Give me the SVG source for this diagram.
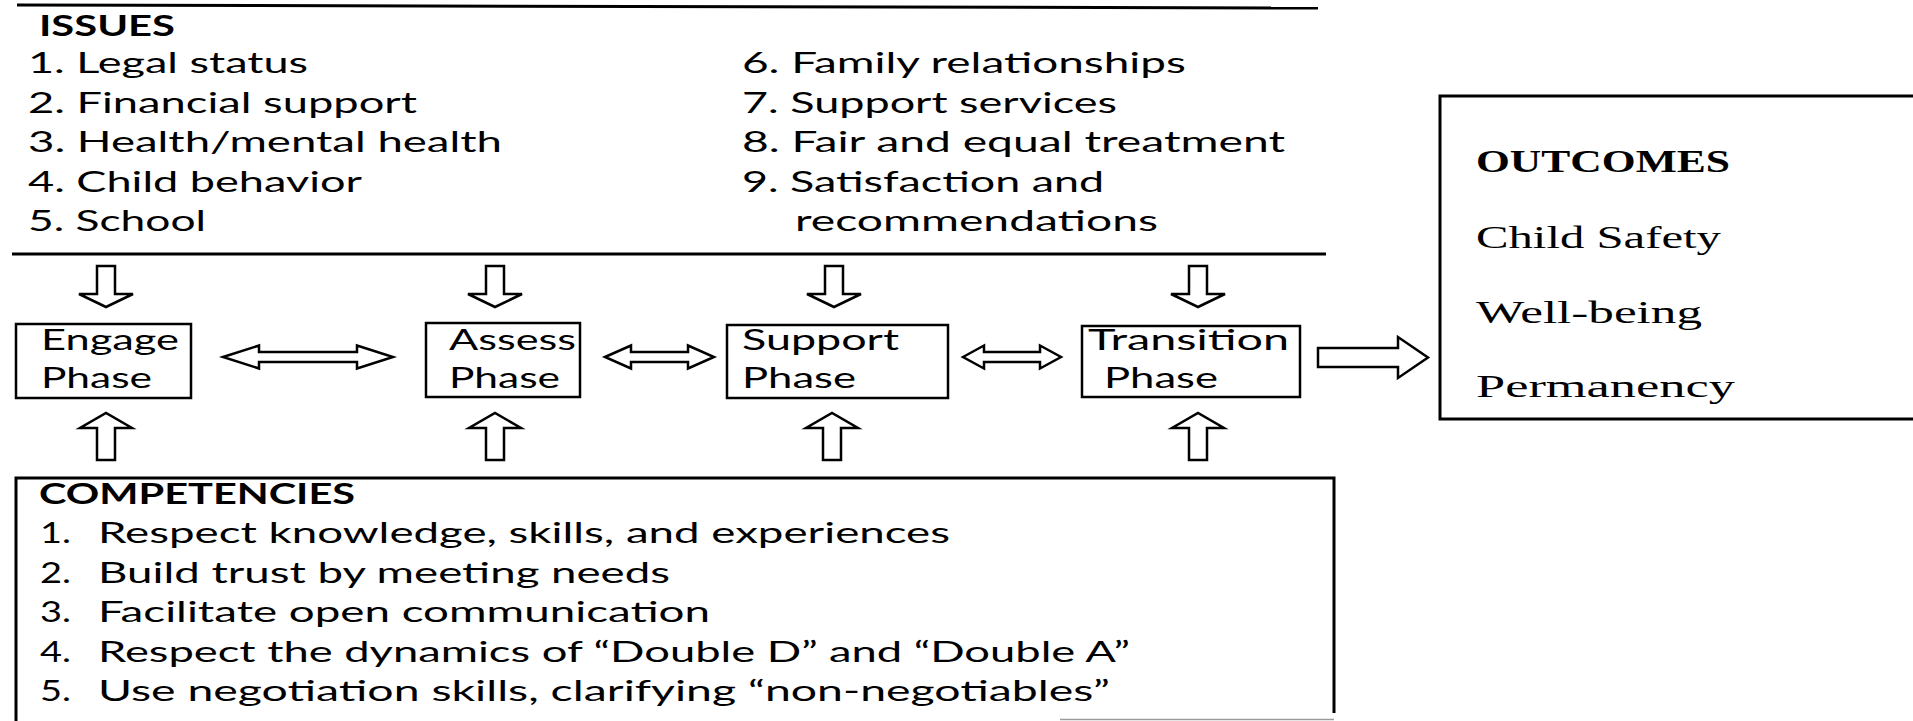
<svg xmlns="http://www.w3.org/2000/svg" width="1913" height="721" viewBox="0 0 1913 721">
<style>
  .bg { fill: #ffffff; }
  .sans { font-family: Lato, "Open Sans", "Liberation Sans", sans-serif; fill: #000; }
  .issue { font-size: 29px; }
  .comp { font-size: 28px; }
  .phase { font-size: 28px; }
  .serif { font-family: "Liberation Serif", "DejaVu Serif", serif; font-size: 31px; fill: #000; }
  .bold { font-weight: bold; }
  .box { fill: #fff; stroke: #000; stroke-width: 2.5; }
  .rule { stroke: #000; stroke-width: 3; fill: none; }
  .arrow { fill: #fff; stroke: #000; stroke-width: 2.5; stroke-linejoin: miter; }
</style>
<rect class="bg" x="0" y="0" width="1913" height="721"/>

<g id="issues">
  <line class="rule" x1="17" y1="5" x2="1318" y2="8"/>
  <line class="rule" x1="12" y1="254" x2="1326" y2="254"/>
  <text class="sans issue bold" x="39" y="36" textLength="136" lengthAdjust="spacingAndGlyphs">ISSUES</text>
  <text class="sans issue" x="28" y="73" textLength="280" lengthAdjust="spacingAndGlyphs">1. Legal status</text>
  <text class="sans issue" x="28" y="113" textLength="389" lengthAdjust="spacingAndGlyphs">2. Financial support</text>
  <text class="sans issue" x="28" y="152" textLength="474" lengthAdjust="spacingAndGlyphs">3. Health/mental health</text>
  <text class="sans issue" x="28" y="192" textLength="334" lengthAdjust="spacingAndGlyphs">4. Child behavior</text>
  <text class="sans issue" x="28" y="231" textLength="178" lengthAdjust="spacingAndGlyphs">5. School</text>
  <text class="sans issue" x="742" y="73" textLength="444" lengthAdjust="spacingAndGlyphs">6. Family relationships</text>
  <text class="sans issue" x="742" y="113" textLength="375" lengthAdjust="spacingAndGlyphs">7. Support services</text>
  <text class="sans issue" x="742" y="152" textLength="543" lengthAdjust="spacingAndGlyphs">8. Fair and equal treatment</text>
  <text class="sans issue" x="742" y="192" textLength="362" lengthAdjust="spacingAndGlyphs">9. Satisfaction and</text>
  <text class="sans issue" x="795" y="231" textLength="363" lengthAdjust="spacingAndGlyphs">recommendations</text>
</g>

<g id="engage">
  <rect class="box" x="16" y="324" width="175" height="74"/>
  <text class="sans phase" x="41" y="350" textLength="138" lengthAdjust="spacingAndGlyphs">Engage</text>
  <text class="sans phase" x="41" y="388" textLength="111" lengthAdjust="spacingAndGlyphs">Phase</text>
</g>

<g id="assess">
  <rect class="box" x="426" y="323" width="154" height="74"/>
  <text class="sans phase" x="449" y="350" textLength="127" lengthAdjust="spacingAndGlyphs">Assess</text>
  <text class="sans phase" x="449" y="388" textLength="111" lengthAdjust="spacingAndGlyphs">Phase</text>
</g>

<g id="support">
  <rect class="box" x="727" y="325" width="221" height="73"/>
  <text class="sans phase" x="742" y="350" textLength="157" lengthAdjust="spacingAndGlyphs">Support</text>
  <text class="sans phase" x="742" y="388" textLength="114" lengthAdjust="spacingAndGlyphs">Phase</text>
</g>

<g id="transition">
  <rect class="box" x="1082" y="326" width="218" height="71"/>
  <text class="sans phase" x="1088" y="350" textLength="201" lengthAdjust="spacingAndGlyphs">Transition</text>
  <text class="sans phase" x="1104" y="388" textLength="114" lengthAdjust="spacingAndGlyphs">Phase</text>
</g>

<g id="outcomes">
  <rect class="box" x="1440" y="96" width="490" height="323" style="stroke-width:3"/>
  <text class="serif bold" x="1476" y="172" textLength="254" lengthAdjust="spacingAndGlyphs">OUTCOMES</text>
  <text class="serif" x="1476" y="248" textLength="245" lengthAdjust="spacingAndGlyphs">Child Safety</text>
  <text class="serif" x="1476" y="323" textLength="226" lengthAdjust="spacingAndGlyphs">Well-being</text>
  <text class="serif" x="1476" y="397" textLength="259" lengthAdjust="spacingAndGlyphs">Permanency</text>
</g>

<g id="competencies">
  <path class="rule" d="M16,721 V478 H1334 V713" style="stroke-width:3"/>
  <line x1="1060" y1="719.5" x2="1334" y2="719.5" stroke="#9a9a9a" stroke-width="1.5"/>
  <text class="sans comp bold" x="39" y="504" textLength="316" lengthAdjust="spacingAndGlyphs">COMPETENCIES</text>
  <text class="sans comp" x="40" y="543" textLength="31" lengthAdjust="spacingAndGlyphs">1.</text>
  <text class="sans comp" x="98" y="543" textLength="852" lengthAdjust="spacingAndGlyphs">Respect knowledge, skills, and experiences</text>
  <text class="sans comp" x="40" y="582.5" textLength="31" lengthAdjust="spacingAndGlyphs">2.</text>
  <text class="sans comp" x="98" y="582.5" textLength="572" lengthAdjust="spacingAndGlyphs">Build trust by meeting needs</text>
  <text class="sans comp" x="40" y="622" textLength="31" lengthAdjust="spacingAndGlyphs">3.</text>
  <text class="sans comp" x="98" y="622" textLength="612" lengthAdjust="spacingAndGlyphs">Facilitate open communication</text>
  <text class="sans comp" x="40" y="661.5" textLength="31" lengthAdjust="spacingAndGlyphs">4.</text>
  <text class="sans comp" x="98" y="661.5" textLength="1032" lengthAdjust="spacingAndGlyphs">Respect the dynamics of “Double D” and “Double A”</text>
  <text class="sans comp" x="40" y="701" textLength="31" lengthAdjust="spacingAndGlyphs">5.</text>
  <text class="sans comp" x="98" y="701" textLength="1012" lengthAdjust="spacingAndGlyphs">Use negotiation skills, clarifying “non-negotiables”</text>
</g>

<g id="connectors">
  <!-- down arrows from issues -->
  <polygon class="arrow" points="97,266 115,266 115,294 133,294 106,307 79,294 97,294"/>
  <polygon class="arrow" points="486,266 504,266 504,294 522,294 495,307 468,294 486,294"/>
  <polygon class="arrow" points="825,266 843,266 843,294 861,294 834,307 807,294 825,294"/>
  <polygon class="arrow" points="1189,266 1207,266 1207,294 1225,294 1198,307 1171,294 1189,294"/>
  <!-- up arrows from competencies -->
  <polygon class="arrow" points="97,460 115,460 115,428 132,428 106,413 80,428 97,428"/>
  <polygon class="arrow" points="486,460 504,460 504,428 521,428 495,413 469,428 486,428"/>
  <polygon class="arrow" points="823,460 841,460 841,428 858,428 832,413 806,428 823,428"/>
  <polygon class="arrow" points="1189,460 1207,460 1207,428 1224,428 1198,413 1172,428 1189,428"/>
  <!-- double arrows between phases -->
  <polygon class="arrow" points="223,357 259,345.5 259,352 357,352 357,345.5 393,357 357,368.5 357,362 259,362 259,368.5"/>
  <polygon class="arrow" points="605,357 631,345.5 631,352 688,352 688,345.5 714,357 688,368.5 688,362 631,362 631,368.5"/>
  <polygon class="arrow" points="963,357 984,345.5 984,352 1040,352 1040,345.5 1061,357 1040,368.5 1040,362 984,362 984,368.5"/>
  <!-- arrow to outcomes -->
  <polygon class="arrow" points="1318,348 1398,348 1398,337 1428,357.5 1398,378 1398,367 1318,367"/>
</g>
</svg>
